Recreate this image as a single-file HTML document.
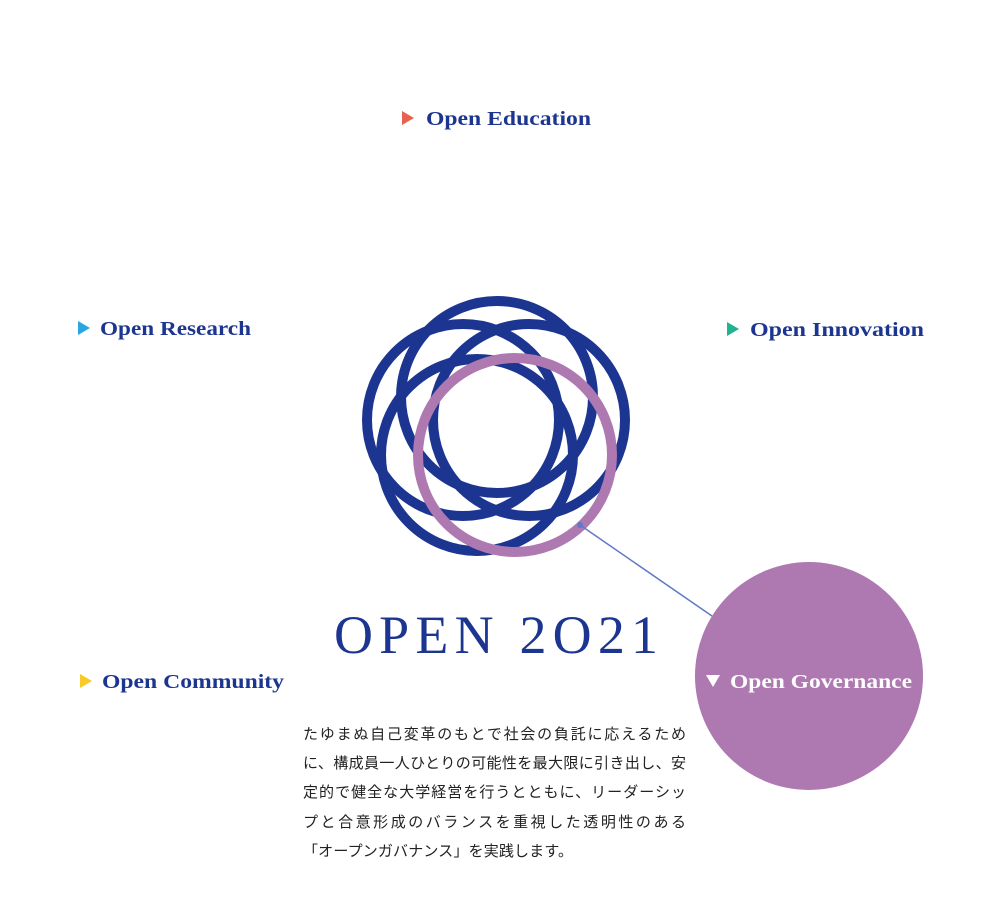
<!DOCTYPE html>
<html><head><meta charset="utf-8"><style>
html,body{margin:0;padding:0;background:#fff;width:990px;height:900px;overflow:hidden}
svg{display:block}
.l{font-family:"Liberation Serif",serif;font-weight:bold;font-size:20px;fill:#1c3591}
.j{font-family:"Liberation Sans","Noto Sans CJK JP",sans-serif;font-size:15px;fill:#222}
</style></head><body>
<svg width="990" height="900" viewBox="0 0 990 900" xmlns="http://www.w3.org/2000/svg">
<polygon points="402,111 402,125 414,118" fill="#e8604f"/>
<text class="l" x="426" y="125" textLength="165" lengthAdjust="spacingAndGlyphs">Open Education</text>
<polygon points="78,321 78,335 90,328" fill="#27a6e0"/>
<text class="l" x="100" y="335" textLength="151" lengthAdjust="spacingAndGlyphs">Open Research</text>
<polygon points="727,322 727,336 739,329" fill="#1fb48f"/>
<text class="l" x="750" y="336" textLength="174" lengthAdjust="spacingAndGlyphs">Open Innovation</text>
<polygon points="80,674 80,688 92,681" fill="#f7c929"/>
<text class="l" x="102" y="688" textLength="182" lengthAdjust="spacingAndGlyphs">Open Community</text>
<g fill="none" stroke="#1c3591" stroke-width="10">
<circle cx="497" cy="397" r="96"/>
<circle cx="463" cy="420" r="96"/>
<circle cx="529" cy="420" r="96"/>
<circle cx="477" cy="455" r="96"/>
</g>
<circle cx="515" cy="455" r="97" fill="none" stroke="#ae78b1" stroke-width="10"/>
<line x1="580" y1="525" x2="712" y2="616" stroke="#5f78c8" stroke-width="1.5"/>
<circle cx="580" cy="525" r="3" fill="#5f78c8"/>
<circle cx="809" cy="676" r="114" fill="#ae78b1"/>
<polygon points="706,675 720,675 713,687" fill="#fff"/>
<text class="l" x="730" y="688" textLength="182" lengthAdjust="spacingAndGlyphs" style="fill:#fff">Open Governance</text>
<text x="334" y="653" textLength="324" lengthAdjust="spacing" style="font-family:'Liberation Serif',serif;font-size:54px;fill:#1c3591">OPEN 2O21</text>
<text class="j" x="303" y="739" textLength="383" lengthAdjust="spacing">たゆまぬ自己変革のもとで社会の負託に応えるため</text>
<text class="j" x="303" y="768" textLength="383" lengthAdjust="spacing">に、構成員一人ひとりの可能性を最大限に引き出し、安</text>
<text class="j" x="303" y="797" textLength="383" lengthAdjust="spacing">定的で健全な大学経営を行うとともに、リーダーシッ</text>
<text class="j" x="303" y="827" textLength="383" lengthAdjust="spacing">プと合意形成のバランスを重視した透明性のある</text>
<text class="j" x="303" y="856" textLength="270" lengthAdjust="spacing">「オープンガバナンス」を実践します。</text>
</svg>
</body></html>
